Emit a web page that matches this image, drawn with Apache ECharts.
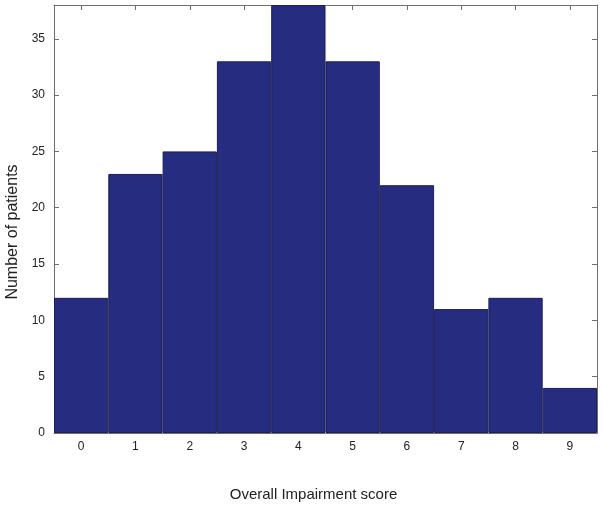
<!DOCTYPE html>
<html><head><meta charset="utf-8">
<script src="https://cdn.jsdelivr.net/npm/echarts@6/dist/echarts.min.js"></script>
<style>html,body{margin:0;padding:0;background:#fff;}#c{width:603px;height:510px;}</style>
</head><body><div id="c"></div>
<script>
var categories = ['0','1','2','3','4','5','6','7','8','9'];
var patients = [12, 23, 25, 33, 38, 33, 22, 11, 12, 4];
var yTicks = [0, 5, 10, 15, 20, 25, 30, 35];

var chart = echarts.init(document.getElementById('c'));
var font = 'Liberation Sans, Arial, Helvetica, sans-serif';
var axisColor = '#6e6e6e';
chart.setOption({
  animation: false,
  grid: {left: 54, right: 6, top: 5, bottom: 77, outerBoundsMode: 'none', containLabel: false},
  xAxis: [{
    type: 'category', data: categories, position: 'bottom',
    name: 'Overall Impairment score', nameLocation: 'middle', nameGap: 54,
    nameTextStyle: {fontFamily: font, fontSize: 15, color: '#222', padding: [0, 24, 0, 0]},
    axisLine: {lineStyle: {color: axisColor}},
    axisTick: {show: true, inside: true, alignWithLabel: true, length: 5, lineStyle: {color: axisColor}},
    axisLabel: {fontFamily: font, fontSize: 12, color: '#222', margin: 8}
  }, {
    type: 'category', data: categories, position: 'top',
    axisLine: {show: true, onZero: false, lineStyle: {color: axisColor}},
    axisTick: {show: true, inside: true, alignWithLabel: true, length: 5, lineStyle: {color: axisColor}},
    axisLabel: {show: false}
  }],
  yAxis: [{
    type: 'value', min: 0, max: 38, interval: 5, position: 'left',
    name: 'Number of patients', nameLocation: 'middle', nameGap: 31,
    nameTextStyle: {fontFamily: font, fontSize: 16, color: '#222', padding: [0, 26, 0, 0]},
    axisLine: {show: true, lineStyle: {color: axisColor}},
    axisTick: {show: true, inside: true, length: 5, lineStyle: {color: axisColor}},
    axisLabel: {fontFamily: font, fontSize: 12, color: '#222', margin: 9, showMaxLabel: false,
      formatter: function(v){ return yTicks.indexOf(v) >= 0 ? String(v) : ''; }},
    splitLine: {show: false}
  }, {
    type: 'value', min: 0, max: 38, interval: 5, position: 'right',
    axisLine: {show: true, lineStyle: {color: axisColor}},
    axisTick: {show: true, inside: true, length: 5, lineStyle: {color: axisColor}},
    axisLabel: {show: false},
    splitLine: {show: false}
  }],
  series: [{
    type: 'bar', data: patients, xAxisIndex: 0, yAxisIndex: 0,
    barCategoryGap: '0%', barWidth: '100%',
    itemStyle: {color: '#262d80', borderColor: '#1a1f55', borderWidth: 1}
  }]
});
</script></body></html>
